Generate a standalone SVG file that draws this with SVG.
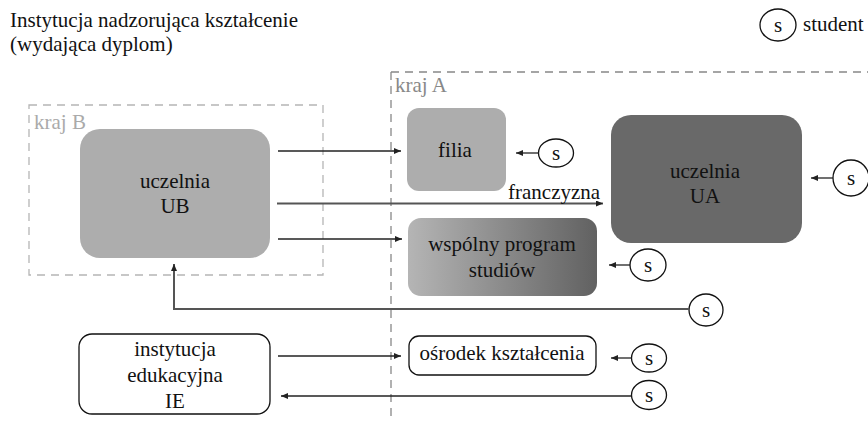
<svg xmlns="http://www.w3.org/2000/svg" width="868" height="421" viewBox="0 0 868 421">
<style>
.s{fill:#fff;stroke:#111;stroke-width:1.3}
.a{stroke:#222;stroke-width:1.3;fill:none;marker-end:url(#ah)}
.g{stroke:#555;stroke-width:2;fill:none;marker-end:url(#ah)}
</style>
<defs>
<marker id="ah" markerUnits="userSpaceOnUse" markerWidth="8" markerHeight="6" refX="7" refY="3" orient="auto"><path d="M0,0 L7,3 L0,6 Z" fill="#222"/></marker>
<linearGradient id="gr" x1="0" y1="0" x2="1" y2="0"><stop offset="0" stop-color="#b5b5b5"/><stop offset="1" stop-color="#616161"/></linearGradient>
</defs>
<g id="title"><text x="10" y="27" style="font-family:'Liberation Serif',serif;font-size:21px;fill:#111">Instytucja nadzorująca kształcenie</text><text x="10" y="51" style="font-family:'Liberation Serif',serif;font-size:21px;fill:#111">(wydająca dyplom)</text></g>
<g id="legend"><ellipse class="s" cx="778" cy="25" rx="18" ry="16"/><text x="778" y="32" text-anchor="middle" style="font-family:'Liberation Serif',serif;font-size:21px;fill:#111">s</text><text x="803" y="31" style="font-family:'Liberation Serif',serif;font-size:21px;fill:#111">student</text></g>
<g id="krajA"><path d="M391,72 H868 M391,72 V421" stroke="#888" stroke-width="1.3" stroke-dasharray="8,6" fill="none"/><text x="395" y="92" style="font-family:'Liberation Serif',serif;font-size:21px;fill:#888">kraj A</text></g>
<g id="krajB"><rect x="29" y="105" width="294" height="170" stroke="#b5b5b5" stroke-width="1.3" stroke-dasharray="8,6" fill="none"/><text x="34" y="129" style="font-family:'Liberation Serif',serif;font-size:21px;fill:#aaa">kraj B</text></g>
<g id="UB"><rect x="80" y="129" width="190" height="129" rx="20" fill="#adadad"/><text x="175" y="188" text-anchor="middle" style="font-family:'Liberation Serif',serif;font-size:21px;fill:#111">uczelnia</text><text x="175" y="213" text-anchor="middle" style="font-family:'Liberation Serif',serif;font-size:21px;fill:#111">UB</text></g>
<g id="filia"><rect x="407" y="108" width="99" height="83" rx="12" fill="#adadad"/><text x="455" y="157" text-anchor="middle" style="font-family:'Liberation Serif',serif;font-size:21px;fill:#111">filia</text></g>
<g id="UA"><rect x="611" y="115" width="191" height="128" rx="20" fill="#696969"/><text x="705" y="178" text-anchor="middle" style="font-family:'Liberation Serif',serif;font-size:21px;fill:#111">uczelnia</text><text x="705" y="203" text-anchor="middle" style="font-family:'Liberation Serif',serif;font-size:21px;fill:#111">UA</text></g>
<g id="wspolny"><rect x="408" y="218" width="189" height="78" rx="13" fill="url(#gr)"/><text x="502" y="251" text-anchor="middle" style="font-family:'Liberation Serif',serif;font-size:21px;fill:#111">wspólny program</text><text x="502" y="277" text-anchor="middle" style="font-family:'Liberation Serif',serif;font-size:21px;fill:#111">studiów</text></g>
<g id="IE"><rect x="79" y="334" width="191" height="80" rx="13" fill="#fff" stroke="#111" stroke-width="1.3"/><text x="175" y="356" text-anchor="middle" style="font-family:'Liberation Serif',serif;font-size:21px;fill:#111">instytucja</text><text x="175" y="382" text-anchor="middle" style="font-family:'Liberation Serif',serif;font-size:21px;fill:#111">edukacyjna</text><text x="175" y="408" text-anchor="middle" style="font-family:'Liberation Serif',serif;font-size:21px;fill:#111">IE</text></g>
<g id="osrodek"><rect x="409" y="336" width="187" height="39" rx="10" fill="#fff" stroke="#111" stroke-width="1.3"/><text x="502" y="360" text-anchor="middle" style="font-family:'Liberation Serif',serif;font-size:21px;fill:#111">ośrodek kształcenia</text></g>
<g id="s1"><ellipse class="s" cx="556" cy="153" rx="17.5" ry="14"/><text x="556" y="160" text-anchor="middle" style="font-family:'Liberation Serif',serif;font-size:21px;fill:#111">s</text></g>
<g id="s2"><ellipse class="s" cx="851" cy="178" rx="18" ry="18"/><text x="851" y="185" text-anchor="middle" style="font-family:'Liberation Serif',serif;font-size:21px;fill:#111">s</text></g>
<g id="s3"><ellipse class="s" cx="648" cy="265" rx="18" ry="16"/><text x="648" y="272" text-anchor="middle" style="font-family:'Liberation Serif',serif;font-size:21px;fill:#111">s</text></g>
<g id="s4"><ellipse class="s" cx="706" cy="310" rx="17" ry="16"/><text x="706" y="317" text-anchor="middle" style="font-family:'Liberation Serif',serif;font-size:21px;fill:#111">s</text></g>
<g id="s5"><ellipse class="s" cx="649" cy="358" rx="17.5" ry="14"/><text x="649" y="365" text-anchor="middle" style="font-family:'Liberation Serif',serif;font-size:21px;fill:#111">s</text></g>
<g id="s6"><ellipse class="s" cx="649" cy="395" rx="17.5" ry="14.5"/><text x="649" y="402" text-anchor="middle" style="font-family:'Liberation Serif',serif;font-size:21px;fill:#111">s</text></g>
<g id="connectors">
<path class="a" d="M278,151 H401"/>
<path class="g" d="M277,203.5 H603"/>
<text x="508" y="199" style="font-family:'Liberation Serif',serif;font-size:21px;fill:#111">franczyzna</text>
<path class="a" d="M278,239 H402"/>
<path class="a" d="M538.5,153 H516"/>
<path class="a" d="M833,178 H811"/>
<path class="a" d="M630,265 H609"/>
<path class="g" d="M689,309 H174 V264"/>
<path class="a" d="M278,356 H401"/>
<path class="a" d="M631.5,358 H611"/>
<path class="a" d="M631.5,396 H281"/>
</g>
</svg>
